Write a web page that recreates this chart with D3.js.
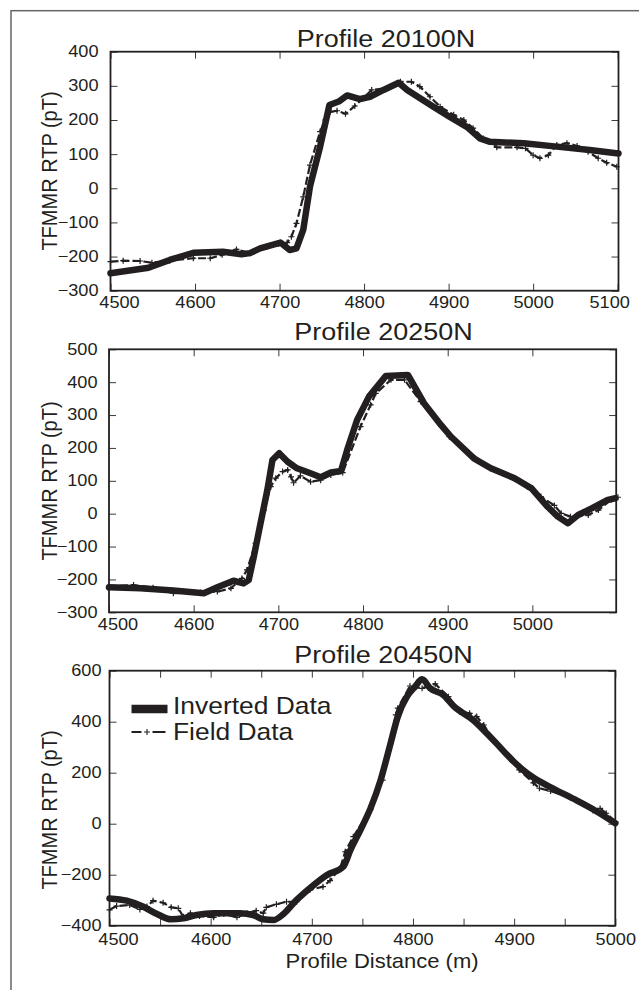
<!DOCTYPE html>
<html>
<head>
<meta charset="utf-8">
<script src="https://cdn.jsdelivr.net/npm/d3@7"></script>
<style>
  html, body { margin: 0; padding: 0; background: #fff; }
  svg { display: block; }
  text { font-family: "Liberation Sans", Arial, Helvetica, sans-serif; fill: #231f20; }
</style>
</head>
<body>
<svg id="chart" width="639" height="990"></svg>
<script>
// ---------- Profile 20100N ----------
const invDist20100 = [4500, 4545, 4570, 4598, 4633, 4655, 4665, 4677, 4701, 4712, 4720, 4728, 4736, 4748, 4759, 4770, 4780, 4795, 4807, 4823, 4841, 4851, 4882, 4902, 4922, 4937, 4949, 4989, 5028, 5067, 5101];
const invRtp20100  = [-249, -233, -210, -189, -186, -193, -190, -176, -159, -181, -176, -122, 5, 122, 244, 254, 272, 261, 268, 288, 309, 288, 239, 208, 179, 146, 136, 132, 122, 112, 102];
const fldDist20100 = [4500, 4515, 4535, 4549, 4570, 4598, 4618, 4632, 4649, 4665, 4685, 4699, 4709, 4714, 4720, 4728, 4736, 4748, 4754, 4760, 4768, 4778, 4789, 4799, 4809, 4827, 4843, 4856, 4866, 4878, 4890, 4906, 4918, 4929, 4941, 4957, 4981, 4991, 5000, 5008, 5018, 5028, 5040, 5052, 5065, 5077, 5087, 5099];
const fldRtp20100  = [-215, -212, -213, -218, -212, -205, -205, -195, -179, -190, -171, -163, -159, -142, -103, -25, 68, 166, 200, 224, 227, 218, 241, 264, 288, 293, 312, 312, 298, 268, 239, 215, 200, 176, 146, 120, 120, 117, 97, 88, 97, 127, 132, 124, 107, 88, 75, 63];
const xDomain20100 = [4500, 5101];
const yDomain20100 = [-300, 400];
const xTicks20100 = [4500, 4600, 4700, 4800, 4900, 5000, 5100];
const yTicks20100 = [-300, -200, -100, 0, 100, 200, 300, 400];

// ---------- Profile 20250N ----------
const invDist20250 = [4500, 4537, 4576, 4612, 4628, 4647, 4659, 4665, 4671, 4679, 4687, 4693, 4701, 4711, 4722, 4738, 4750, 4762, 4774, 4782, 4793, 4807, 4827, 4853, 4872, 4892, 4904, 4931, 4951, 4979, 4999, 5018, 5030, 5042, 5054, 5070, 5089, 5098];
const invRtp20250  = [-224, -227, -234, -242, -224, -204, -212, -202, -131, -29, 72, 163, 184, 158, 138, 123, 111, 125, 130, 200, 285, 356, 419, 422, 336, 270, 234, 168, 138, 108, 77, 21, -9, -29, -4, 16, 42, 47];
const fldDist20250 = [4500, 4529, 4552, 4576, 4608, 4628, 4644, 4657, 4663, 4673, 4683, 4691, 4697, 4705, 4711, 4715, 4718, 4726, 4738, 4750, 4762, 4776, 4797, 4809, 4815, 4833, 4849, 4868, 4902, 4950, 4994, 5010, 5026, 5034, 5045, 5066, 5078, 5093, 5101];
const fldRtp20250  = [-222, -217, -225, -242, -240, -237, -227, -197, -171, -90, 11, 82, 108, 128, 133, 112, 94, 115, 97, 102, 118, 125, 265, 331, 366, 407, 407, 341, 234, 138, 82, 52, 25, 1, -9, -4, 11, 42, 50];
const xDomain20250 = [4500, 5099];
const yDomain20250 = [-300, 500];
const xTicks20250 = [4500, 4600, 4700, 4800, 4900, 5000];
const yTicks20250 = [-300, -200, -100, 0, 100, 200, 300, 400, 500];

// ---------- Profile 20450N ----------
const invDist20450 = [4500, 4517, 4533, 4547, 4561, 4573, 4586, 4603, 4629, 4642, 4652, 4662, 4672, 4685, 4698, 4715, 4731, 4738, 4748, 4758, 4768, 4777, 4785, 4794, 4802, 4809, 4817, 4830, 4840, 4860, 4880, 4900, 4912, 4920, 4940, 4960, 4980, 5000];
const invRtp20450  = [-293, -302, -325, -354, -375, -371, -358, -351, -351, -358, -375, -378, -354, -299, -253, -201, -169, -105, -25, 60, 171, 302, 420, 498, 537, 566, 531, 505, 462, 405, 325, 242, 200, 178, 135, 95, 52, 2];
const fldDist20450 = [4500, 4507, 4520, 4530, 4537, 4543, 4553, 4561, 4568, 4573, 4580, 4589, 4603, 4613, 4626, 4636, 4645, 4652, 4655, 4665, 4675, 4685, 4698, 4711, 4718, 4728, 4733, 4741, 4758, 4770, 4783, 4785, 4797, 4809, 4822, 4835, 4846, 4856, 4863, 4870, 4880, 4900, 4905, 4919, 4925, 4936, 4956, 4978, 4985, 4991, 5000];
const fldRtp20450  = [-338, -323, -319, -336, -325, -302, -310, -328, -332, -365, -351, -362, -367, -354, -367, -351, -341, -351, -328, -316, -306, -306, -260, -247, -223, -175, -110, -51, 55, 171, 427, 453, 540, 531, 548, 498, 439, 433, 420, 387, 325, 242, 211, 160, 139, 128, 103, 52, 60, 41, 8];
const xDomain20450 = [4500, 5000];
const yDomain20450 = [-400, 600];
const xTicks20450 = [4500, 4550, 4600, 4650, 4700, 4750, 4800, 4850, 4900, 4950, 5000];
const yTicks20450 = [-400, -200, 0, 200, 400, 600];

const titles = ["Profile 20100N", "Profile 20250N", "Profile 20450N"];
const yAxisTitle = "TFMMR RTP (pT)";
const xAxisTitle = "Profile Distance (m)";
const legendNames = ["Inverted Data", "Field Data"];

// ---------- drawing ----------
const INK = "#231f20";
const STRETCH = 1.1;   // the artwork is slightly wider than tall
const svg = d3.select("#chart");

// outer border of the figure
svg.append("rect")
  .attr("x", 11).attr("y", 10.7).attr("width", 700).attr("height", 1050)
  .attr("fill", "none").attr("stroke", "#666").attr("stroke-width", 1.5);

function putText(parent, str, x, y, size, anchor, rot) {
  return parent.append("text")
    .attr("transform", `translate(${x},${y}) scale(${STRETCH},1)` + (rot ? ` rotate(${rot})` : ""))
    .attr("text-anchor", anchor)
    .style("font-size", size + "px")
    .text(str);
}

const panels = [
  { title: titles[0], titleX: 386, titleY: 46.7,
    left: 110.5, right: 618.5, top: 51.7, bottom: 290.7,
    xDomain: xDomain20100, yDomain: yDomain20100, xTicks: xTicks20100, yTicks: yTicks20100,
    xLabelDy: 17.7, yLabelDx: -12, yTitleY: 171,
    inv: [invDist20100, invRtp20100], fld: [fldDist20100, fldRtp20100], endShift: -8.5,
    curve: d3.curveLinear },
  { title: titles[1], titleX: 383.5, titleY: 340,
    left: 109, right: 616.2, top: 349.3, bottom: 612.3,
    xDomain: xDomain20250, yDomain: yDomain20250, xTicks: xTicks20250, yTicks: yTicks20250,
    xLabelDy: 17.7, yLabelDx: -11.5, yTitleY: 481,
    inv: [invDist20250, invRtp20250], fld: [fldDist20250, fldRtp20250], endShift: 0,
    curve: d3.curveLinear },
  { title: titles[2], titleX: 383.5, titleY: 663.3,
    left: 109.5, right: 615.3, top: 670.7, bottom: 925.7,
    xDomain: xDomain20450, yDomain: yDomain20450, xTicks: xTicks20450, yTicks: yTicks20450,
    xLabelDy: 19.3, yLabelDx: -8, yTitleY: 810,
    inv: [invDist20450, invRtp20450], fld: [fldDist20450, fldRtp20450], endShift: 0,
    curve: d3.curveMonotoneX, xTitle: true, legend: true }
];

const plusPath = "M-3,0H3M0,-3V3";

panels.forEach(p => {
  const g = svg.append("g");
  const x = d3.scaleLinear().domain(p.xDomain).range([p.left, p.right]);
  const y = d3.scaleLinear().domain(p.yDomain).range([p.bottom, p.top]);
  const first = p.xTicks[0], last = p.xTicks[p.xTicks.length - 1];
  const labelled = d => d % 100 === 0;

  // inward ticks on all four sides
  const bottomAxis = g.append("g").attr("transform", `translate(0,${p.bottom})`)
    .call(d3.axisBottom(x).tickValues(p.xTicks).tickSizeInner(-7).tickSizeOuter(0)
      .tickFormat(d => labelled(d) ? d3.format("d")(d) : ""));
  g.append("g").attr("transform", `translate(0,${p.top})`)
    .call(d3.axisTop(x).tickValues(p.xTicks).tickSizeInner(-7).tickSizeOuter(0).tickFormat(""));
  const leftAxis = g.append("g").attr("transform", `translate(${p.left},0)`)
    .call(d3.axisLeft(y).tickValues(p.yTicks).tickSizeInner(-7).tickSizeOuter(0).tickFormat(d3.format("d")));
  g.append("g").attr("transform", `translate(${p.right},0)`)
    .call(d3.axisRight(y).tickValues(p.yTicks).tickSizeInner(-7).tickSizeOuter(0).tickFormat(""));

  g.selectAll(".domain").remove();
  g.selectAll(".tick line").attr("stroke", "#3a3a3a").attr("stroke-width", 1);
  g.selectAll(".tick text").attr("fill", INK).style("font-size", "16.5px")
    .style("font-family", '"Liberation Sans", Arial, sans-serif');

  bottomAxis.selectAll(".tick text")
    .attr("y", null).attr("dy", null)
    .attr("transform", d => {
      let dx = 0;
      if (d === first) dx = 8.5;
      else if (d === last && p.endShift) dx = p.endShift;
      return `translate(${dx},${p.xLabelDy}) scale(${STRETCH},1)`;
    });
  leftAxis.selectAll(".tick text")
    .attr("x", null).attr("dy", null)
    .attr("transform", `translate(${p.yLabelDx},4.9) scale(${STRETCH},1)`);

  // plot frame
  g.append("rect")
    .attr("x", p.left).attr("y", p.top)
    .attr("width", p.right - p.left).attr("height", p.bottom - p.top)
    .attr("fill", "none").attr("stroke", INK).attr("stroke-width", 1.8);

  const fld = p.fld[0].map((d, i) => [d, p.fld[1][i]]);
  const inv = p.inv[0].map((d, i) => [d, p.inv[1][i]]);

  // field data: dashed line with plus markers
  const fieldLine = d3.line().x(d => x(d[0])).y(d => y(d[1]));
  g.append("path").datum(fld).attr("d", fieldLine)
    .attr("fill", "none").attr("stroke", INK).attr("stroke-width", 2.2)
    .attr("stroke-dasharray", "8,3");
  g.selectAll(".plus").data(fld).join("path")
    .attr("class", "plus")
    .attr("transform", d => `translate(${x(d[0])},${y(d[1])})`)
    .attr("d", plusPath).attr("stroke", INK).attr("stroke-width", 1.2).attr("fill", "none");

  // inverted data: heavy line
  const invLine = d3.line().x(d => x(d[0])).y(d => y(d[1])).curve(p.curve);
  g.append("path").datum(inv).attr("d", invLine)
    .attr("fill", "none").attr("stroke", INK).attr("stroke-width", 6.5)
    .attr("stroke-linejoin", "round").attr("stroke-linecap", "round");

  // titles
  putText(g, p.title, p.titleX, p.titleY, 24.5, "middle");
  putText(g, yAxisTitle, 57, p.yTitleY, 20, "middle", -90);
  if (p.xTitle) putText(g, xAxisTitle, 382, 967.5, 20, "middle");

  if (p.legend) {
    const lg = g.append("g");
    lg.append("line").attr("x1", 131.5).attr("x2", 167.5).attr("y1", 709).attr("y2", 709)
      .attr("stroke", INK).attr("stroke-width", 8.5);
    putText(lg, legendNames[0], 173, 714, 24, "start");
    lg.append("line").attr("x1", 131.5).attr("x2", 165.5).attr("y1", 732).attr("y2", 732)
      .attr("stroke", INK).attr("stroke-width", 2).attr("stroke-dasharray", "10,11,13");
    lg.append("path").attr("transform", "translate(147,732)").attr("d", plusPath)
      .attr("stroke", INK).attr("stroke-width", 1.1);
    putText(lg, legendNames[1], 173, 739.5, 24, "start");
  }
});
</script>
</body>
</html>
